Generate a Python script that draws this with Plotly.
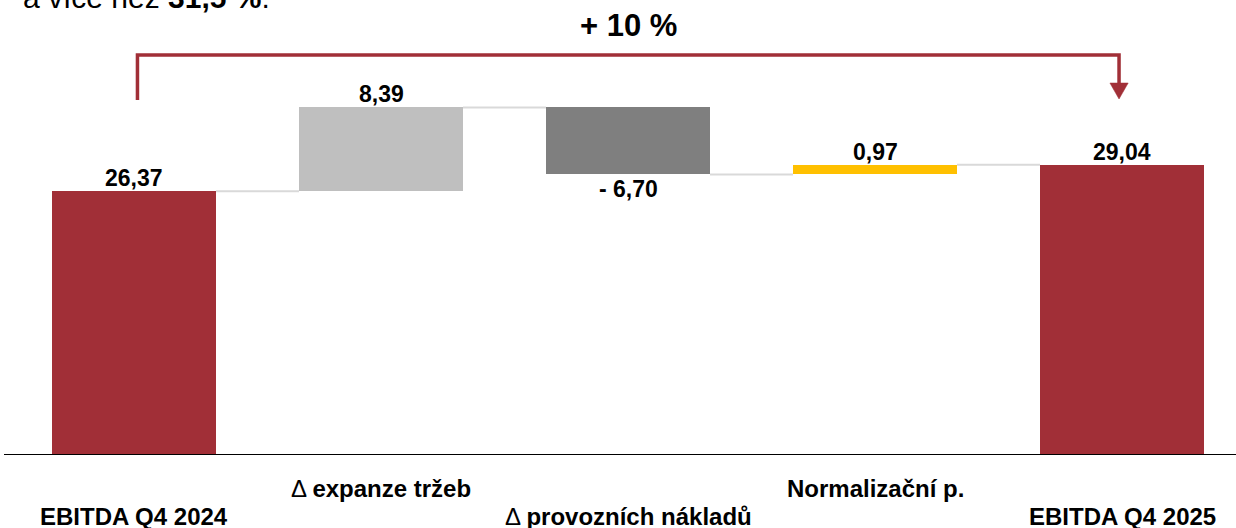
import plotly.graph_objects as go

# ---- data ----
categories = ["EBITDA Q4 2024", "Δ expanze tržeb", "Δ provozních nákladů", "Normalizační p.", "EBITDA Q4 2025"]
cat_labels = ["<b>EBITDA Q4 2024</b>", "Δ <b>expanze tržeb</b>", "Δ <b>provozních nákladů</b>",
              "<b>Normalizační p.</b>", "<b>EBITDA Q4 2025</b>"]
start_value = 26.37
deltas = [8.39, -6.70, 0.97]
end_value = 29.04
value_labels = ["26,37", "8,39", "- 6,70", "0,97", "29,04"]
change_label = "+ 10 %"
header_text = "a více než <b>31,5 %</b>."

colors = ["#A12F37", "#BFBFBF", "#7F7F7F", "#FFC000", "#A12F37"]
FONT = "Liberation Sans, Arial, sans-serif"
YMAX = 45.5

# ---- compute floating bars ----
bases, heights = [0.0], [start_value]
level = start_value
for d in deltas:
    if d >= 0:
        bases.append(level); heights.append(d)
    else:
        bases.append(level + d); heights.append(-d)
    level += d
bases.append(0.0); heights.append(end_value)

xs = list(range(len(categories)))
bw = 0.664

fig = go.Figure(go.Bar(
    x=xs, y=heights, base=bases, width=bw,
    marker=dict(color=colors, line=dict(width=0)),
    hoverinfo="skip",
))

shapes = []
# connectors
conn_levels = [start_value]
lv = start_value
for d in deltas:
    lv += d
    conn_levels.append(lv)
for i in range(len(xs) - 1):
    shapes.append(dict(type="line", xref="x", yref="y",
                       x0=xs[i] + bw / 2, x1=xs[i + 1] - bw / 2,
                       y0=conn_levels[i], y1=conn_levels[i],
                       line=dict(color="#D9D9D9", width=2), layer="below"))
# baseline axis line
shapes.append(dict(type="line", xref="paper", yref="y", x0=0, x1=1, y0=0, y1=0,
                   line=dict(color="black", width=2)))

# bracket with arrow
bc = "#A12F37"
lx, rx = xs[0] + 0.014, xs[-1] - 0.012
ytop = 40.0
shapes.append(dict(type="path", xref="x", yref="y",
                   path=f"M {lx},35.5 L {lx},{ytop} L {rx},{ytop} L {rx},37.0",
                   line=dict(color=bc, width=3.5)))
shapes.append(dict(type="path", xref="x", yref="y",
                   path=f"M {rx-0.037},37.2 L {rx+0.037},37.2 L {rx},35.6 Z",
                   fillcolor=bc, line=dict(color=bc, width=0.5)))

annotations = []
# value labels
tops = [b + h for b, h in zip(bases, heights)]
for i, x in enumerate(xs):
    is_neg = (1 <= i <= len(deltas)) and deltas[i - 1] < 0
    if is_neg:
        annotations.append(dict(x=x, y=bases[i], xref="x", yref="y", text=f"<b>{value_labels[i]}</b>",
                                showarrow=False, yanchor="middle", yshift=-15,
                                font=dict(family=FONT, size=23, color="black")))
    else:
        annotations.append(dict(x=x, y=tops[i], xref="x", yref="y", text=f"<b>{value_labels[i]}</b>",
                                showarrow=False, yanchor="middle", yshift=13,
                                font=dict(family=FONT, size=23, color="black")))
# category labels (staggered) - paper coords below the axis
for i, x in enumerate(xs):
    ypos = -6.1 if i % 2 == 0 else -3.3
    annotations.append(dict(x=x, y=ypos / YMAX, xref="x", yref="paper", text=cat_labels[i],
                            showarrow=False, yanchor="middle",
                            font=dict(family=FONT, size=24, color="black")))
# change label
annotations.append(dict(x=xs[2], y=43.0, xref="x", yref="y", text=f"<b>{change_label}</b>",
                        showarrow=False, yanchor="middle",
                        font=dict(family=FONT, size=31, color="black")))
# cropped header text
annotations.append(dict(x=(272 - 4) / 1232, y=(455 + 3) / 455, xref="paper", yref="paper",
                        text=header_text, showarrow=False, xanchor="right", yanchor="middle",
                        font=dict(family=FONT, size=30, color="black")))

fig.update_layout(
    width=1236, height=528,
    margin=dict(l=4, r=0, t=0, b=73),
    paper_bgcolor="white", plot_bgcolor="white",
    showlegend=False,
    bargap=0,
    xaxis=dict(range=[-0.5263, 4.4615], visible=False, fixedrange=True),
    yaxis=dict(range=[0, YMAX], visible=False, fixedrange=True),
    shapes=shapes, annotations=annotations,
)

fig.write_html("out.html", config={"displayModeBar": False},
               post_script="document.body.style.margin='0';document.body.style.overflow='hidden';")
